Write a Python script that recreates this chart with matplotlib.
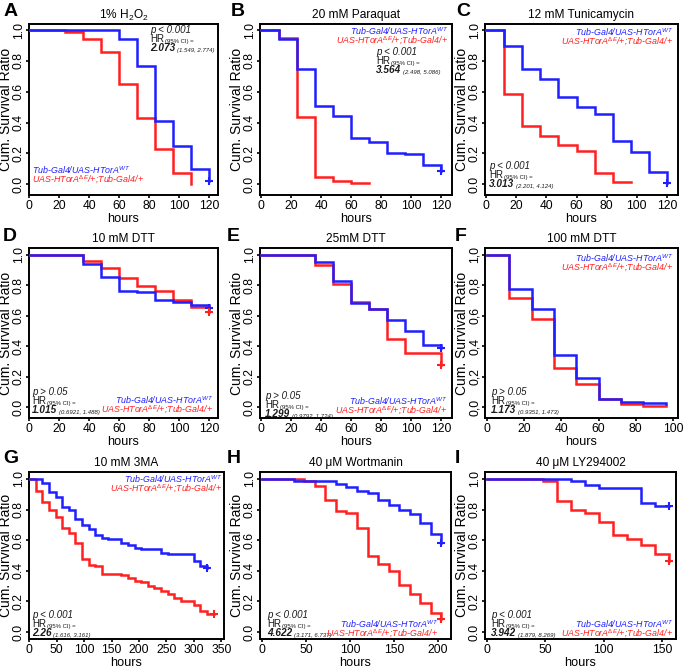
import matplotlib
matplotlib.use('Agg')
import matplotlib.pyplot as plt
from matplotlib.ticker import FixedLocator, FuncFormatter

plt.rcParams['font.family'] = ['Liberation Sans', 'DejaVu Sans']
plt.rcParams['mathtext.fontset'] = 'custom'
plt.rcParams['mathtext.rm'] = 'Liberation Sans'
plt.rcParams['mathtext.it'] = 'Liberation Sans:italic'
plt.rcParams['mathtext.bf'] = 'Liberation Sans:bold'

# ---------------- data ----------------
A_blue_t = [0, 60, 72, 84, 96, 108, 120]
A_blue_s = [1.0, 0.94, 0.77, 0.41, 0.25, 0.10, 0.02]
A_red_t = [0, 24, 36, 48, 60, 72, 84, 96, 108]
A_red_s = [1.0, 0.985, 0.94, 0.86, 0.65, 0.43, 0.23, 0.075, 0.0]

B_blue_t = [0, 12, 24, 36, 48, 60, 72, 84, 96, 108, 120]
B_blue_s = [1.0, 0.94, 0.745, 0.51, 0.44, 0.30, 0.276, 0.205, 0.197, 0.125, 0.086]
B_red_t = [0, 12, 24, 36, 48, 60, 72]
B_red_s = [1.0, 0.946, 0.436, 0.05, 0.02, 0.011, 0.011]

C_blue_t = [0, 12, 24, 36, 48, 60, 72, 84, 96, 108, 120]
C_blue_s = [1.0, 0.894, 0.748, 0.683, 0.568, 0.50, 0.458, 0.28, 0.206, 0.082, 0.007]
C_red_t = [0, 12, 24, 36, 48, 60, 72, 84, 96]
C_red_s = [1.0, 0.586, 0.375, 0.31, 0.252, 0.217, 0.072, 0.015, 0.015]

D_blue_t = [0, 36, 48, 60, 72, 84, 96, 108, 120]
D_blue_s = [1.0, 0.938, 0.857, 0.763, 0.754, 0.703, 0.688, 0.67, 0.65]
D_red_t = [0, 36, 48, 60, 72, 84, 96, 108, 120]
D_red_s = [1.0, 0.963, 0.912, 0.846, 0.798, 0.763, 0.703, 0.659, 0.626]

E_blue_t = [0, 36, 48, 60, 72, 84, 96, 108, 120]
E_blue_s = [1.0, 0.953, 0.828, 0.686, 0.642, 0.572, 0.498, 0.409, 0.388]
E_red_t = [0, 36, 48, 60, 72, 84, 96, 120]
E_red_s = [1.0, 0.934, 0.811, 0.69, 0.642, 0.45, 0.358, 0.28]

F_blue_t = [0, 12, 24, 36, 48, 60, 72, 84, 96]
F_blue_s = [1.0, 0.777, 0.645, 0.34, 0.19, 0.057, 0.038, 0.026, 0.02]
F_red_t = [0, 12, 24, 36, 48, 60, 72, 84, 96]
F_red_s = [1.0, 0.72, 0.58, 0.257, 0.155, 0.053, 0.021, 0.011, 0.008]

G_blue_t = [0, 24, 36, 48, 60, 72, 84, 96, 108, 120, 132, 144, 168, 180, 192, 204,
            240, 252, 300, 312, 324]
G_blue_s = [1.0, 0.972, 0.914, 0.881, 0.814, 0.799, 0.739, 0.702, 0.67, 0.631, 0.616,
            0.605, 0.583, 0.566, 0.551, 0.54, 0.518, 0.508, 0.464, 0.43, 0.42]
G_red_t = [0, 12, 24, 36, 48, 60, 72, 84, 96, 108, 120, 132, 168, 180, 192, 204, 216,
           228, 240, 252, 264, 276, 300, 312, 324, 336]
G_red_s = [1.0, 0.92, 0.85, 0.80, 0.75, 0.68, 0.65, 0.58, 0.48, 0.44, 0.43, 0.38, 0.37,
           0.35, 0.335, 0.325, 0.30, 0.285, 0.27, 0.25, 0.22, 0.20, 0.175, 0.14, 0.12, 0.12]

H_blue_t = [0, 36, 84, 96, 108, 120, 132, 144, 156, 168, 180, 192, 204]
H_blue_s = [1.0, 0.983, 0.965, 0.944, 0.924, 0.907, 0.864, 0.83, 0.80, 0.77, 0.71, 0.64, 0.58]
H_red_t = [0, 48, 60, 72, 84, 96, 108, 120, 132, 144, 156, 168, 180, 192, 204]
H_red_s = [1.0, 0.983, 0.955, 0.864, 0.793, 0.777, 0.68, 0.497, 0.447, 0.40, 0.31,
           0.248, 0.19, 0.125, 0.086]

I_blue_t = [0, 72, 84, 96, 132, 144, 156]
I_blue_s = [1.0, 0.983, 0.96, 0.94, 0.84, 0.82, 0.82]
I_red_t = [0, 48, 60, 72, 84, 96, 108, 120, 132, 144, 156]
I_red_s = [1.0, 0.983, 0.853, 0.80, 0.78, 0.72, 0.637, 0.605, 0.566, 0.512, 0.465]

titles = ['1% H$_2$O$_2$', '20 mM Paraquat', '12 mM Tunicamycin',
          '10 mM DTT', '25mM DTT', '100 mM DTT',
          '10 mM 3MA', '40 \u03bcM Wortmanin', '40 \u03bcM LY294002']
letters = ['A', 'B', 'C', 'D', 'E', 'F', 'G', 'H', 'I']
p_texts = ['p < 0.001', 'p < 0.001', 'p < 0.001', 'p > 0.05', 'p > 0.05', 'p > 0.05',
           'p < 0.001', 'p < 0.001', 'p < 0.001']
hr_values = ['2.073', '3.564', '3.013', '1.015', '1.299', '1.173', '2.26', '4.622', '3.942']
hr_cis = ['(1.549, 2.774)', '(2.498, 5.086)', '(2.201, 4.124)', '(0.6921, 1.488)',
          '(0.9792, 1.724)', '(0.9351, 1.473)', '(1.616, 3.161)', '(3.171, 6.737)',
          '(1.879, 8.269)']
xticks_list = [list(range(0, 121, 20))] * 5 + [list(range(0, 101, 20)),
               list(range(0, 351, 50)), [0, 50, 100, 150, 200], [0, 50, 100, 150]]
yticks = [0.0, 0.2, 0.4, 0.6, 0.8, 1.0]
blue_label = 'Tub-Gal4/UAS-HTorA$^{WT}$'
red_label = 'UAS-HTorA$^{\\Delta E}$/+;Tub-Gal4/+'

series = [
    (A_blue_t, A_blue_s, True, A_red_t, A_red_s, False),
    (B_blue_t, B_blue_s, True, B_red_t, B_red_s, False),
    (C_blue_t, C_blue_s, True, C_red_t, C_red_s, False),
    (D_blue_t, D_blue_s, True, D_red_t, D_red_s, True),
    (E_blue_t, E_blue_s, True, E_red_t, E_red_s, True),
    (F_blue_t, F_blue_s, False, F_red_t, F_red_s, False),
    (G_blue_t, G_blue_s, True, G_red_t, G_red_s, True),
    (H_blue_t, H_blue_s, True, H_red_t, H_red_s, True),
    (I_blue_t, I_blue_s, True, I_red_t, I_red_s, True),
]

# ---------------- layout (pixels) ----------------
W, H = 685, 670
BLUE = '#1f1fff'
RED = '#ff2020'
TXT = '#1a1a1a'

rects = [(29, 24, 218, 195), (260, 24, 452, 195), (485, 24, 678, 195),
         (29, 248, 218, 418), (260, 248, 452, 418), (485, 248, 678, 418),
         (29, 472, 224, 639), (260, 472, 451, 639), (485, 472, 676, 639)]
xlims = [(-0.1, 126.0), (-0.7, 127.3), (-0.7, 127.3),
         (-0.1, 126.0), (-0.7, 127.3), (-1.1, 102.7),
         (-0.5, 355.0), (-2.3, 214.8), (-1.7, 162.0)]
ylims = [(-0.07, 1.04)] * 3 + [(-0.07, 1.045)] * 3 + [(-0.045, 1.045)] * 3
# stats block: top-left pixel of first line
stats_pos = [(150, 25), (376, 47), (489, 161), (32, 387), (265, 391), (491, 387),
             (32, 610), (267, 610), (491, 610)]
# legend: (x, y_top_first_line, ha)
legend_pos = [(32, 164, 'left'), (448, 25, 'right'), (673, 26, 'right'),
              (213, 394, 'right'), (447, 395, 'right'), (673, 252, 'right'),
              (222, 473, 'right'), (438, 618, 'right'), (673, 618, 'right')]
letter_pos = [(4, 16), (231, 16), (456, 16), (3, 241), (227, 241), (455, 241),
              (3, 463), (227, 463), (455, 463)]
LINE_H = 6.6  # points, stats block
LEG_H = 7.2   # points, legend lines
LEG_FS = 6.4

fig = plt.figure(figsize=(W / 100, H / 100), dpi=100)


def fp(x, y):
    return (x, H - y)


def chain(ax, prev, txt, **kw):
    return ax.annotate(txt, xy=(1, 0), xycoords=prev, xytext=(1.0, 0),
                       textcoords='offset points', va='bottom', ha='left', **kw)


for i in range(9):
    l, t, r, b = rects[i]
    ax = fig.add_axes([l / W, 1 - b / H, (r - l) / W, (b - t) / H])
    bt, bs, bc, rt, rs, rc = series[i]
    ax.step(rt, rs, where='post', color=RED, lw=1.8, solid_joinstyle='miter', zorder=3)
    ax.step(bt, bs, where='post', color=BLUE, lw=1.8, solid_joinstyle='miter', zorder=4)
    if bc:
        ax.plot([bt[-1]], [bs[-1]], marker='+', ms=6, mew=1.5, color=BLUE, zorder=5)
    if rc:
        ax.plot([rt[-1]], [rs[-1]], marker='+', ms=6, mew=1.5, color=RED, zorder=5)
    ax.set_xlim(*xlims[i])
    ax.set_ylim(*ylims[i])
    ax.xaxis.set_major_locator(FixedLocator(xticks_list[i]))
    ax.yaxis.set_major_locator(FixedLocator(yticks))
    if i == 5:
        ax.yaxis.set_major_formatter(FuncFormatter(lambda v, p: ('%.1f' % v).replace('.', ',')))
    else:
        ax.yaxis.set_major_formatter(FuncFormatter(lambda v, p: '%.1f' % v))
    for s in ax.spines.values():
        s.set_linewidth(1.4)
    ax.tick_params(direction='out', length=2.5, width=1.2, labelsize=8.7, pad=1.0)
    ax.tick_params(axis='y', pad=0.6)
    for lab in ax.get_yticklabels():
        lab.set_rotation(90)
        lab.set_va('center')
    ax.set_xlabel('hours', fontsize=9.2, labelpad=0.5)
    ax.set_ylabel('Cum. Survival Ratio', fontsize=10.0, labelpad=0.0)
    ax.set_title(titles[i], fontsize=8.6, pad=4)

    # panel letter
    fig.text(letter_pos[i][0] / W, 1 - letter_pos[i][1] / H, letters[i],
             fontsize=14, fontweight='bold', va='baseline', ha='left')

    # stats block
    sx, sy = stats_pos[i]
    ax.annotate(p_texts[i], xy=fp(sx, sy), xycoords='figure pixels', xytext=(0, 0),
                textcoords='offset points', va='top', ha='left', fontsize=7,
                style='italic', color=TXT)
    t2 = ax.annotate('HR', xy=fp(sx, sy), xycoords='figure pixels',
                     xytext=(0, -LINE_H), textcoords='offset points', va='top',
                     ha='left', fontsize=7, color=TXT)
    chain(ax, t2, '(95% CI) =', fontsize=4.3, color=TXT)
    t3 = ax.annotate(hr_values[i], xy=fp(sx, sy), xycoords='figure pixels',
                     xytext=(0, -2 * LINE_H), textcoords='offset points', va='top',
                     ha='left', fontsize=7.2, style='italic', fontweight='bold', color=TXT)
    chain(ax, t3, hr_cis[i], fontsize=4.3, style='italic', color=TXT)

    # legend text
    lx, ly, ha = legend_pos[i]
    ax.annotate(blue_label, xy=fp(lx, ly), xycoords='figure pixels', xytext=(0, 0),
                textcoords='offset points', va='top', ha=ha, fontsize=LEG_FS,
                style='italic', color=BLUE)
    ax.annotate(red_label, xy=fp(lx, ly), xycoords='figure pixels', xytext=(0, -LEG_H),
                textcoords='offset points', va='top', ha=ha, fontsize=LEG_FS,
                style='italic', color=RED)

fig.savefig('out.png', dpi=100)
